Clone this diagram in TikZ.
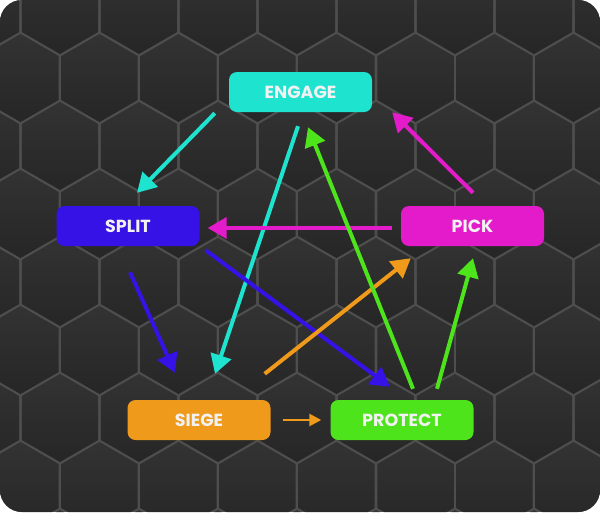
\documentclass[tikz,border=0pt]{standalone}
\usepackage{fontspec}
\setsansfont{Poppins}
\usetikzlibrary{arrows.meta,calc}

\definecolor{engagecol}{HTML}{1EE3CF}
\definecolor{splitcol}{HTML}{3612E6}
\definecolor{pickcol}{HTML}{E41BCB}
\definecolor{siegecol}{HTML}{F09A1C}
\definecolor{protectcol}{HTML}{4DE41C}
\definecolor{gapcol}{HTML}{4E4E4E}
\definecolor{tiletop}{HTML}{333333}
\definecolor{tilebot}{HTML}{262626}

\tikzset{
  tag/.style={rounded corners=8pt, minimum width=143pt, minimum height=40pt,
    text=white!95!black, font=\sffamily\bfseries\fontsize{17.5}{19}\selectfont},
  link/.style={line width=4pt, -{Triangle[length=19pt,width=21pt]}},
  smalllink/.style={line width=2.5pt, -{Triangle[length=12pt,width=12pt]}},
  tile/.style={top color=tiletop, bottom color=tilebot}
}

\begin{document}
\begin{tikzpicture}[x=1pt,y=-1pt]
\useasboundingbox (0,0) rectangle (600,512);
\fill[white] (0,0) rectangle (600,512);

% hexagon wall
\begin{scope}
\clip[rounded corners=22pt] (0,0) rectangle (600,512);
\fill[gapcol] (0,0) rectangle (600,512);
\foreach \row in {0,...,8} {
  \pgfmathsetmacro\yc{10+68*\row}
  \pgfmathsetmacro\xo{mod(\row,2)==0 ? 60 : 99.5}
  \foreach \col in {-1,...,7} {
    \shade[tile] (\xo+79*\col,\yc) +(30:44) -- +(90:44) -- +(150:44)
      -- +(210:44) -- +(270:44) -- +(330:44) -- cycle;
  }
}
\end{scope}

% tags
\node[tag,fill=engagecol]  (engage)  at (300.5,92) {ENGAGE};
\node[tag,fill=splitcol]   (split)   at (128,226)  {SPLIT};
\node[tag,fill=pickcol]    (pick)    at (472.5,226) {PICK};
\node[tag,fill=siegecol]   (siege)   at (199,420)  {SIEGE};
\node[tag,fill=protectcol] (protect) at (402,420)  {PROTECT};

% links
\draw[link,engagecol] ($(engage.south west)+(-14,1)$) -- ($(split.north)+(9,-13)$);
\draw[link,engagecol] ($(engage.south)+(-2.5,14)$) -- ($(siege.north)+(16,-26)$);
\draw[link,splitcol] ($(split.south)+(2,26)$) -- ($(siege.north)+(-24,-27)$);
\draw[link,splitcol] ($(split.south east)+(6,4)$) -- ($(protect.north)+(-12,-13)$);
\draw[link,pickcol] ($(pick.north)+(0.5,-13)$) -- ($(engage.south east)+(20,0)$);
\draw[link,pickcol] ($(pick.west)+(-9,2)$) -- ($(split.east)+(8,2)$);
\draw[link,siegecol] ($(siege.north east)+(-6,-26)$) -- ($(pick.south west)+(10,12)$);
\draw[smalllink,siegecol] ($(siege.east)+(12,0)$) -- ($(protect.west)+(-9,0)$);
\draw[link,protectcol] ($(protect.north)+(11,-11)$) -- ($(engage.south)+(7.5,15)$);
\draw[link,protectcol] ($(protect.north)+(35,-11)$) -- ($(pick.south)+(0.5,12)$);
\end{tikzpicture}
\end{document}
